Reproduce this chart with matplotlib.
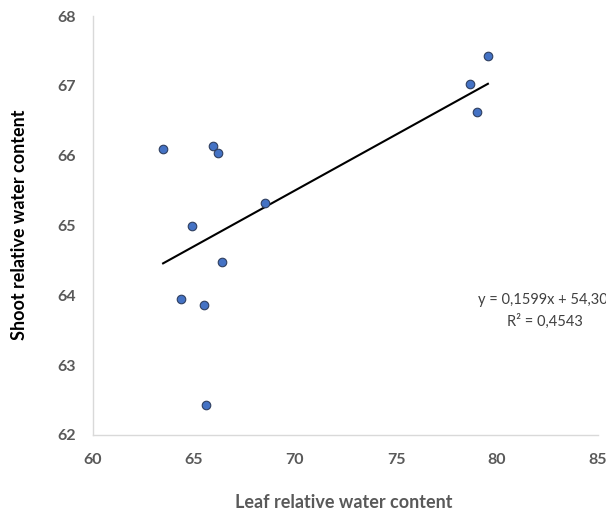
import numpy as np
import matplotlib
matplotlib.use("Agg")
import matplotlib.pyplot as plt

leaf_rwc = [63.47, 65.94, 66.19, 64.90, 68.51, 66.39, 64.36, 65.50, 65.59, 79.55, 78.66, 79.01]
shoot_rwc = [66.09, 66.14, 66.04, 64.99, 65.32, 64.48, 63.95, 63.86, 62.43, 67.43, 67.03, 66.62]
x_ticks = [60, 65, 70, 75, 80, 85]
y_ticks = [62, 63, 64, 65, 66, 67, 68]
eq_text = "y = 0,1599x + 54,309"
r2_text = "R² = 0,4543"
slope, intercept = 0.1599, 54.309

plt.rcParams['font.family'] = ['Lato', 'DejaVu Sans']

fig = plt.figure(figsize=(6.06, 5.12), dpi=100)
W, H = 606, 512
left, right, top, bottom = 93, 598, 16, 435
ax = fig.add_axes([left / W, 1 - bottom / H, (right - left) / W, (bottom - top) / H])

ax.set_xlim(60, 85)
ax.set_ylim(62, 68)
ax.set_xticks(x_ticks)
ax.set_yticks(y_ticks)

grey = '#595959'
ax.tick_params(length=0, labelsize=11.5, labelcolor=grey, pad=13)
ax.tick_params(axis='y', pad=12)
for lab in ax.get_xticklabels() + ax.get_yticklabels():
    lab.set_fontweight('bold')

for s in ['top', 'right']:
    ax.spines[s].set_visible(False)
for s in ['left', 'bottom']:
    ax.spines[s].set_color('#D9D9D9')
    ax.spines[s].set_linewidth(1.0)

xs = np.array([min(leaf_rwc), max(leaf_rwc)])
ax.plot(xs, slope * xs + intercept, color='black', lw=1.5, zorder=2)

ax.scatter(leaf_rwc, shoot_rwc, s=38, facecolor='#4472C4', edgecolor='#2F3F60', linewidth=0.8, zorder=3)

ax.text(478 / W, 1 - 300 / H, eq_text, transform=fig.transFigure, fontsize=10.5, color='#404040',
        ha='left', va='center')
ax.text(545 / W, 1 - 321 / H, r2_text, transform=fig.transFigure, fontsize=10.5, color='#404040',
        ha='center', va='center')

fig.text(344 / W, 1 - 503 / H, "Leaf relative water content", fontsize=13, fontweight='bold',
         color=grey, ha='center', va='center')
fig.text(20 / W, 1 - 225 / H, "Shoot relative water content", fontsize=13, fontweight='bold',
         color='black', ha='center', va='center', rotation=90)

fig.savefig('out.png', dpi=100)
